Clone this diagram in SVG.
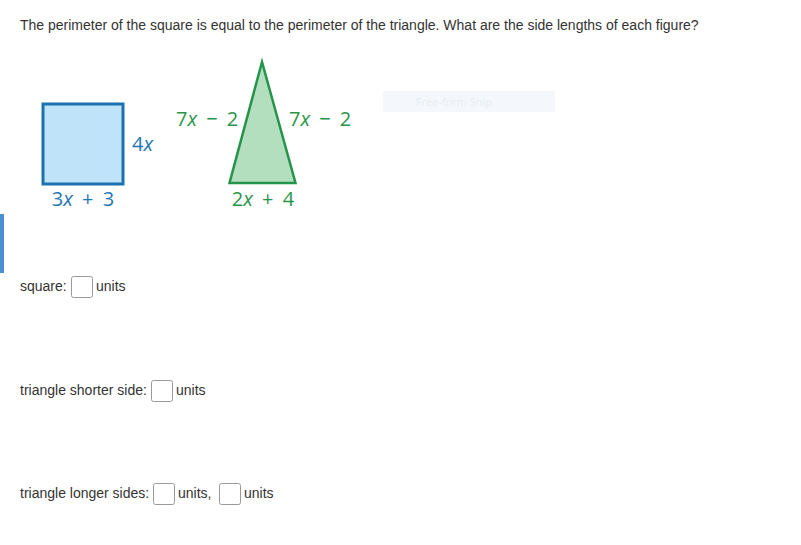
<svg xmlns="http://www.w3.org/2000/svg" width="801" height="545" viewBox="0 0 801 545">
<style>
.q{font-family:"Liberation Sans",Arial,sans-serif;font-size:14px;fill:#333}
.m{font-family:"Open Sans","Noto Sans",sans-serif;font-size:20px;word-spacing:4px}
.b{fill:#1f77b4}
.g{fill:#2a9548}
.box{fill:#fff;stroke:#999;stroke-width:1}
</style>
<rect width="801" height="545" fill="#fff"/>
<text class="q" x="20" y="30">The perimeter of the square is equal to the perimeter of the triangle. What are the side lengths of each figure?</text>
<g id="snip">
<rect x="383" y="91" width="172" height="21" fill="#f4f8fd"/>
<text x="454" y="106" text-anchor="middle" font-family="'Open Sans',sans-serif" font-size="11" fill="#e6ecf3">Free-form Snip</text>
</g>
<g id="square">
<rect x="43" y="104" width="80" height="80" fill="#bfe4f9" stroke="#1a72b0" stroke-width="3"/>
<text class="m b" x="132" y="151">4<tspan font-style="italic">x</tspan></text>
<text class="m b" x="83" y="206" text-anchor="middle">3<tspan font-style="italic">x</tspan> + 3</text>
</g>
<g id="triangle">
<polygon points="262,62 229.5,183 295.5,183" fill="#b3dfbf" stroke="#25944a" stroke-width="2.5" stroke-linejoin="miter"/>
<text class="m g" x="176" y="126">7<tspan font-style="italic">x</tspan> − 2</text>
<text class="m g" x="289" y="126">7<tspan font-style="italic">x</tspan> − 2</text>
<text class="m g" x="263" y="206" text-anchor="middle">2<tspan font-style="italic">x</tspan> + 4</text>
</g>
<rect x="0" y="214" width="4" height="59" fill="#4a8fd0"/>
<g id="answers">
<text class="q" x="20" y="291">square:</text>
<rect class="box" x="71.5" y="276.5" width="21" height="21" rx="2"/>
<text class="q" x="96" y="291">units</text>
<text class="q" x="20" y="395">triangle shorter side:</text>
<rect class="box" x="151.5" y="380.5" width="21" height="21" rx="2"/>
<text class="q" x="176" y="395">units</text>
<text class="q" x="20" y="498">triangle longer sides:</text>
<rect class="box" x="153.5" y="483.5" width="21" height="21" rx="2"/>
<text class="q" x="178" y="498">units,</text>
<rect class="box" x="219.5" y="483.5" width="21" height="21" rx="2"/>
<text class="q" x="244" y="498">units</text>
</g>
</svg>
